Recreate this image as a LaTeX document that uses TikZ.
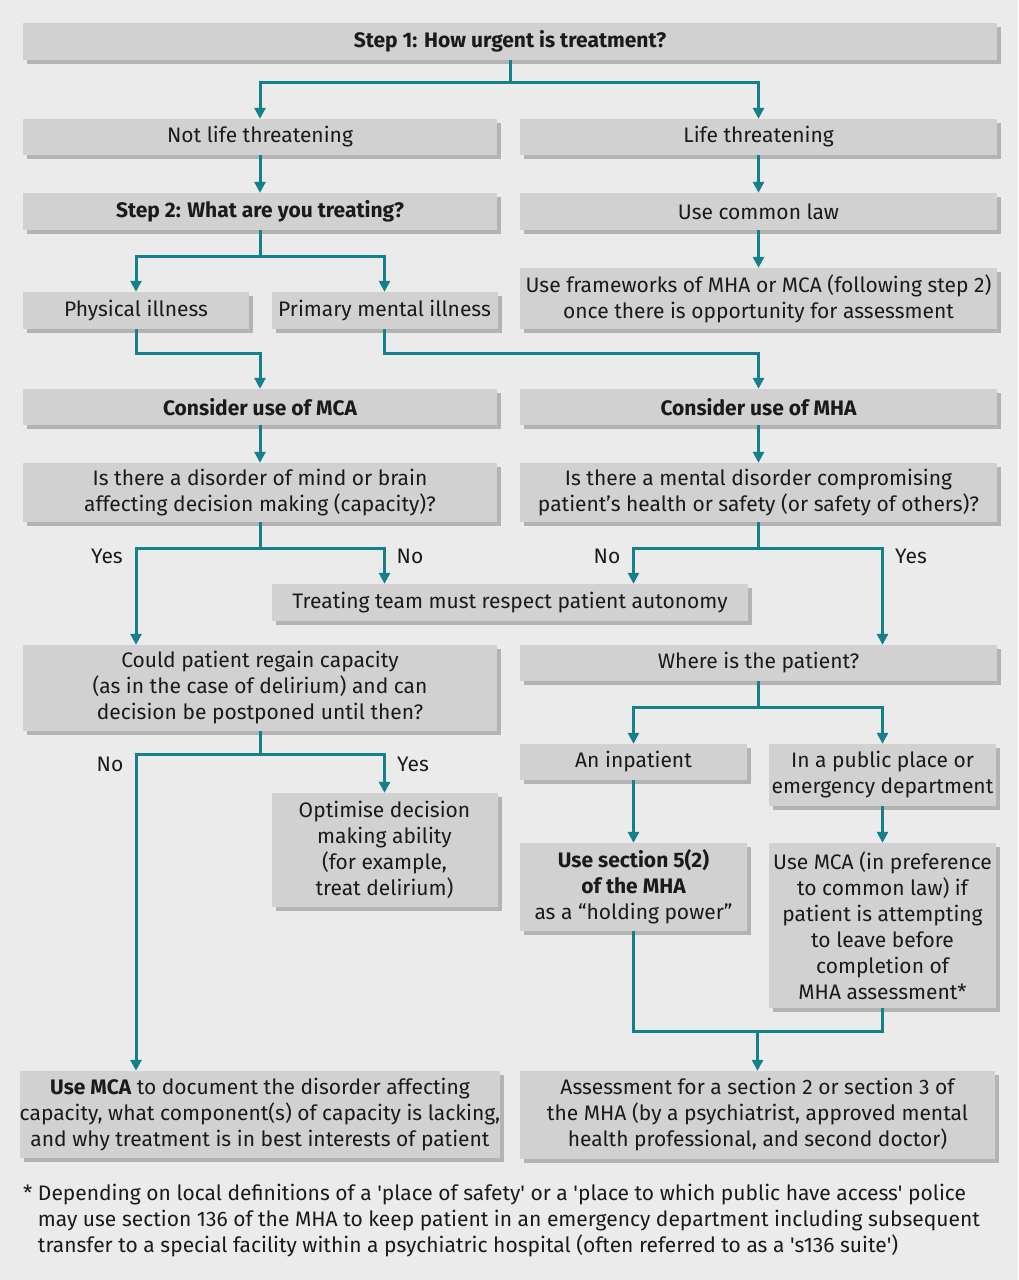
\documentclass[tikz,border=0pt]{standalone}
\usepackage{fontspec}
\setmainfont{Fira Sans}
\usepackage{xcolor}
\usepackage{tikz}
\usetikzlibrary{arrows.meta, shadows}

\definecolor{bgcol}{HTML}{EBEBEB}
\definecolor{boxcol}{HTML}{D1D1D1}
\definecolor{shadowcol}{HTML}{B3B3B3}
\definecolor{teal}{HTML}{13808A}
\definecolor{txtcol}{HTML}{1A1A1A}

\tikzset{
    box/.style={fill=boxcol, inner sep=0pt, align=center, text=txtcol,
        font=\fontsize{21}{26}\selectfont,
        drop shadow={shadow xshift=4pt, shadow yshift=-4pt, fill=shadowcol, opacity=1}},
    flow/.style={draw=teal, line width=3pt},
    arr/.style={flow, -{Triangle[length=11pt, width=11pt]}},
    lbl/.style={text=txtcol, font=\fontsize{21}{26}\selectfont}
}

\begin{document}
\begin{tikzpicture}[x=1pt, y=-1pt]
    \fill[bgcol] (0,0) rectangle (1018,1280);
    \useasboundingbox (0,0) rectangle (1018,1280);

    % step 1
    \node[box, minimum width=974pt, minimum height=37pt] (step1) at (510,41.5) {\bfseries Step 1: How urgent is treatment?};
    \node[box, minimum width=474pt, minimum height=36pt] (notlife) at (260,137) {Not life threatening};
    \node[box, minimum width=477pt, minimum height=36pt] (life) at (758.5,137) {Life threatening};

    % step 2
    \node[box, minimum width=474pt, minimum height=37pt] (step2) at (260,211.5) {\bfseries Step 2: What are you treating?};
    \node[box, minimum width=477pt, minimum height=37pt] (common) at (758.5,211.5) {Use common law};
    \node[box, minimum width=477pt, minimum height=61pt] (frameworks) at (758.5,298.5) {Use frameworks of MHA or MCA (following step 2)\\once there is opportunity for assessment};
    \node[box, minimum width=226pt, minimum height=37pt] (physical) at (136,310.5) {Physical illness};
    \node[box, minimum width=226pt, minimum height=37pt] (primary) at (384.5,310.5) {Primary mental illness};

    \node[box, minimum width=474pt, minimum height=36pt] (considermca) at (260,407) {\bfseries Consider use of MCA};
    \node[box, minimum width=477pt, minimum height=36pt] (considermha) at (758.5,407) {\bfseries Consider use of MHA};
    \node[box, minimum width=474pt, minimum height=59pt] (disorder) at (260,492.5) {Is there a disorder of mind or brain\\affecting decision making (capacity)?};
    \node[box, minimum width=477pt, minimum height=59pt] (mental) at (758.5,492.5) {Is there a mental disorder compromising\\patient’s health or safety (or safety of others)?};

    \node[box, minimum width=476pt, minimum height=37pt] (treating) at (510,602.5) {Treating team must respect patient autonomy};
    \node[box, minimum width=474pt, minimum height=86pt] (could) at (260,688) {Could patient regain capacity\\(as in the case of delirium) and can\\decision be postponed until then?};
    \node[box, minimum width=477pt, minimum height=36pt] (where) at (758.5,663) {Where is the patient?};

    \node[box, minimum width=227pt, minimum height=36pt] (inpatient) at (633.5,762) {An inpatient};
    \node[box, minimum width=227pt, minimum height=62pt] (public) at (882.5,775) {In a public place or\\emergency department};
    \node[box, minimum width=226pt, minimum height=114pt] (optimise) at (384.5,850) {Optimise decision\\making ability\\(for example,\\treat delirium)};
    \node[box, minimum width=227pt, minimum height=88pt] (section52) at (633.5,887) {\bfseries Use section 5(2)\\\bfseries of the MHA\\as a “holding power”};
    \node[box, minimum width=227pt, minimum height=165pt] (usemca) at (882.5,925.5) {Use MCA (in preference\\to common law) if\\patient is attempting\\to leave before\\completion of\\MHA assessment*};

    \node[box, minimum width=474pt, minimum height=87pt] (document) at (260,1114.5) {{\bfseries Use MCA} to document the disorder affecting\\capacity, what component(s) of capacity is lacking,\\and why treatment is in best interests of patient};
    \node[box, minimum width=475pt, minimum height=88pt] (assessment) at (757.5,1115) {Assessment for a section 2 or section 3 of\\the MHA (by a psychiatrist, approved mental\\health professional, and second doctor)};

    % yes/no labels
    \node[lbl] (yes1) at (107,556) {Yes};
    \node[lbl] (no1) at (410,556) {No};
    \node[lbl] (no2) at (607,556) {No};
    \node[lbl] (yes2) at (911,556) {Yes};
    \node[lbl] (no3) at (110,764) {No};
    \node[lbl] (yes3) at (413,764) {Yes};

    % connectors
    \draw[flow] (step1.south) -- ++(0,22) coordinate (s1);
    \draw[arr] (s1) -| (notlife.north);
    \draw[arr] (s1) -| (life.north);
    \draw[arr] (notlife) -- (step2);
    \draw[arr] (life) -- (common);
    \draw[arr] (common) -- (frameworks);

    \draw[flow] (step2.south) -- ++(0,26) coordinate (s2);
    \draw[arr] (s2) -| (physical.north);
    \draw[arr] (s2) -| (primary.north);
    \draw[arr] (physical.south) -- ++(0,24) -| (considermca.north);
    \draw[arr] (primary.south) -- ++(0,24) -| (considermha.north);
    \draw[arr] (considermca) -- (disorder);
    \draw[arr] (considermha) -- (mental);

    \draw[flow] (disorder.south) -- ++(0,26) coordinate (d1);
    \draw[arr] (d1) -| (physical.south |- could.north);
    \draw[arr] (d1) -| (primary.south |- treating.north);
    \draw[flow] (mental.south) -- ++(0,26) coordinate (m1);
    \draw[arr] (m1) -| (inpatient.south |- treating.north);
    \draw[arr] (m1) -| (public.north |- where.north);

    \draw[flow] (could.south) -- ++(0,23) coordinate (c1);
    \draw[arr] (c1) -| (physical.south |- document.north);
    \draw[arr] (c1) -| (optimise.north);
    \draw[flow] (where.south) -- ++(0,26) coordinate (w1);
    \draw[arr] (w1) -| (inpatient.north);
    \draw[arr] (w1) -| (public.north);
    \draw[arr] (inpatient) -- (section52);
    \draw[arr] (public) -- (usemca);

    \draw[flow] (section52.south) -- ++(0,100) coordinate (j1) -| (usemca.south);
    \draw[arr] (j1 -| assessment.north) -- (assessment.north);

    % footnote
    \node[lbl, anchor=north west, align=left, inner sep=0pt] (footnote) at (23,1184) {* Depending on local definitions of a \textquotesingle place of safety\textquotesingle{} or a \textquotesingle place to which public have access\textquotesingle{} police\\\phantom{* }may use section 136 of the MHA to keep patient in an emergency department including subsequent\\\phantom{* }transfer to a special facility within a psychiatric hospital (often referred to as a \textquotesingle s136 suite\textquotesingle)};
\end{tikzpicture}
\end{document}
